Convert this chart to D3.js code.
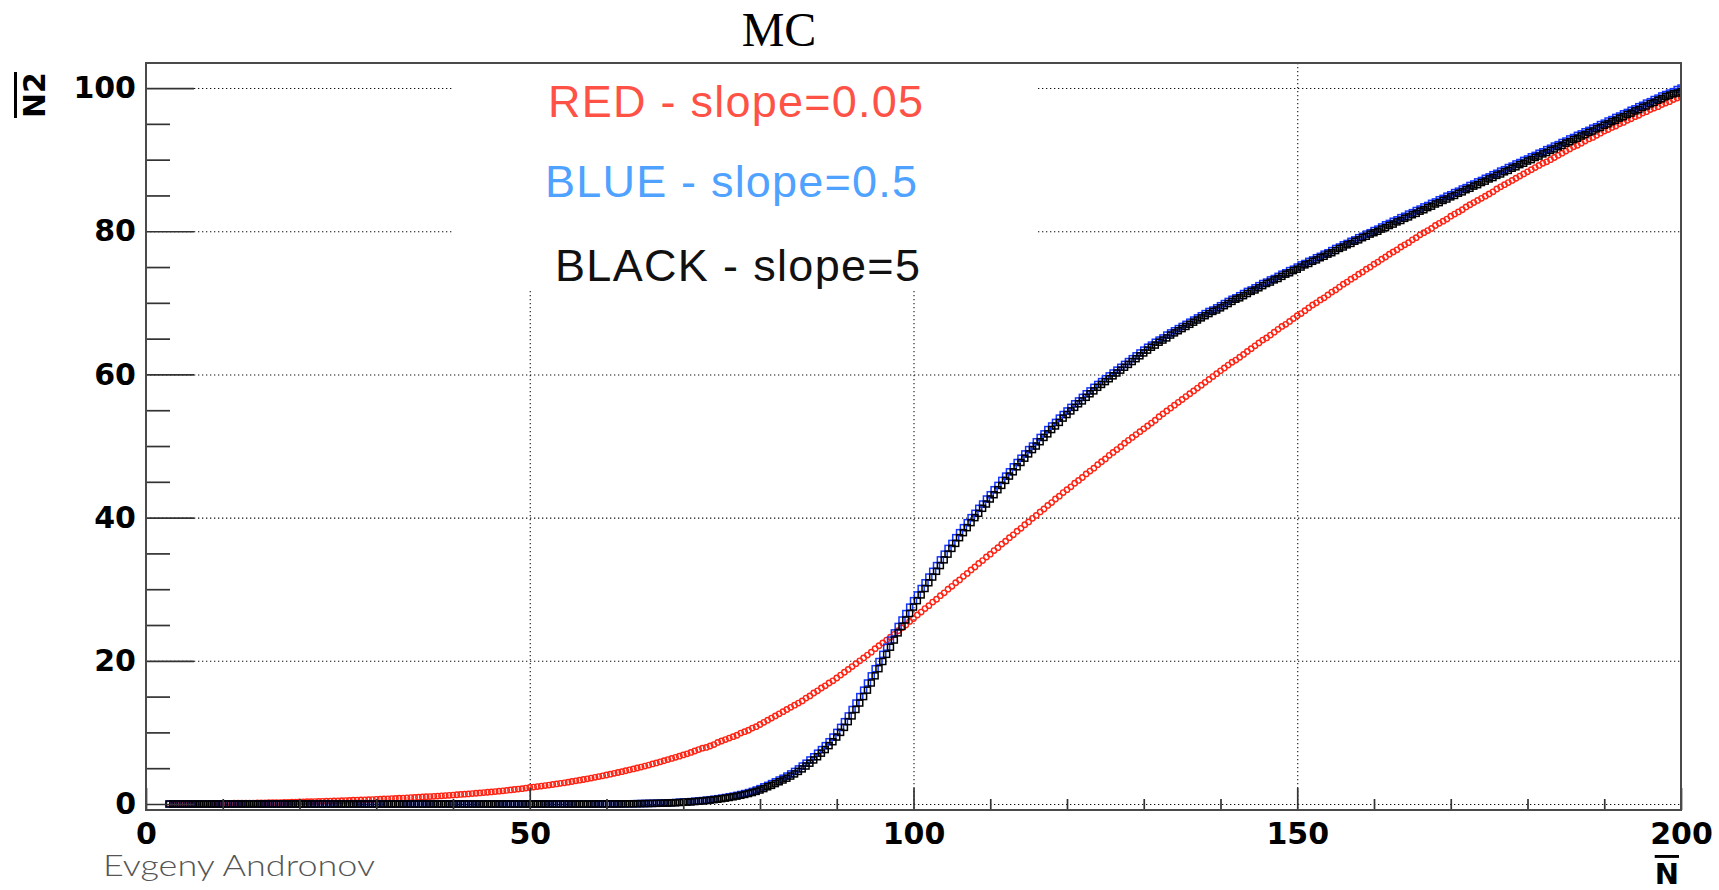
<!DOCTYPE html>
<html>
<head>
<meta charset="utf-8">
<script src="https://cdn.jsdelivr.net/npm/d3@7"></script>
<style>
  html, body { margin: 0; padding: 0; background: #fff; }
  svg { display: block; }
  .axis .tick text { font-family: "DejaVu Sans", sans-serif; font-weight: bold; font-size: 30px; fill: #000; }
</style>
</head>
<body>
<svg id="chart" width="1719" height="890"></svg>
<script>

/*
*       Data
*/

// mean N grid: first point and step of the scan
var nFirst = 3;
var nStep = 0.5;

// RED - slope=0.05 (open circles)
var redN2 = [
  0.02,0.02,0.03,0.03,0.03,0.04,0.04,0.04,0.05,0.05,0.06,0.06,0.07,0.07,0.08,
  0.08,0.09,0.1,0.1,0.11,0.11,0.12,0.13,0.14,0.15,0.16,0.17,0.18,0.19,0.2,0.22,0.23,0.25,0.26,0.28,
  0.29,0.31,0.32,0.34,0.35,0.37,0.38,0.4,0.42,0.44,0.46,0.48,0.5,0.52,0.54,0.56,0.58,0.6,0.62,0.65,
  0.67,0.7,0.72,0.75,0.77,0.8,0.83,0.86,0.89,0.92,0.95,0.98,1.01,1.04,1.07,1.11,1.14,1.18,1.21,1.25,
  1.29,1.33,1.37,1.41,1.45,1.5,1.54,1.59,1.64,1.69,1.74,1.79,1.84,1.9,1.96,2.02,2.08,2.14,2.22,2.3,
  2.36,2.43,2.5,2.57,2.64,2.72,2.8,2.88,2.96,3.05,3.14,3.23,3.32,3.42,3.52,3.62,3.72,3.83,3.94,4.05,
  4.16,4.28,4.4,4.52,4.64,4.77,4.9,5.03,5.16,5.3,5.44,5.59,5.74,5.89,6.04,6.2,6.36,6.52,6.68,6.85,
  7.0,7.2,7.4,7.6,7.8,7.9,8.1,8.3,8.6,8.8,9.0,9.2,9.4,9.6,9.9,10.1,10.3,10.6,10.8,11.1,
  11.4,11.7,12.0,12.3,12.6,12.9,13.2,13.5,13.8,14.1,14.4,14.8,15.1,15.5,15.8,16.2,16.5,16.9,17.2,17.6,
  18.0,18.4,18.8,19.2,19.6,20.0,20.4,20.8,21.2,21.7,22.1,22.5,22.9,23.3,23.7,24.2,24.6,25.0,25.5,25.9,
  26.4,26.8,27.3,27.7,28.2,28.6,29.1,29.5,30.0,30.4,30.9,31.3,31.8,32.2,32.7,33.1,33.6,34.0,34.5,34.9,
  35.4,35.8,36.3,36.7,37.2,37.6,38.1,38.5,39.0,39.4,39.9,40.3,40.8,41.2,41.7,42.1,42.6,43.0,43.5,43.9,
  44.3,44.8,45.2,45.6,46.1,46.5,46.9,47.4,47.8,48.2,48.7,49.1,49.5,49.9,50.4,50.8,51.2,51.6,52.0,52.4,
  52.8,53.2,53.6,54.1,54.5,54.9,55.3,55.7,56.1,56.5,56.9,57.3,57.7,58.1,58.5,58.9,59.3,59.7,60.1,60.5,
  60.9,61.3,61.7,62.0,62.4,62.8,63.2,63.6,64.0,64.4,64.8,65.1,65.5,65.9,66.3,66.7,67.0,67.4,67.8,68.2,
  68.5,68.9,69.3,69.7,70.0,70.4,70.7,71.1,71.5,71.8,72.2,72.6,72.9,73.3,73.6,74.0,74.3,74.7,75.0,75.4,
  75.7,76.1,76.4,76.8,77.1,77.4,77.8,78.1,78.4,78.8,79.1,79.5,79.8,80.1,80.4,80.8,81.1,81.4,81.7,82.1,
  82.4,82.7,83.0,83.4,83.7,84.0,84.3,84.6,84.9,85.2,85.5,85.9,86.2,86.5,86.8,87.1,87.4,87.7,88.0,88.3,
  88.6,88.9,89.2,89.5,89.7,90.0,90.3,90.6,90.9,91.2,91.5,91.8,92.0,92.3,92.6,92.9,93.1,93.4,93.7,94.0,
  94.2,94.5,94.7,95.0,95.2,95.5,95.7,96.0,96.2,96.5,96.7,97.0,97.2,97.4,97.7,97.9,98.1,98.4,98.6,98.8
];

// BLUE - slope=0.5 (open squares)
var blueN2 = [
  0,0,0,0,0,0,0,0,0,0,0,0,0,0,0,
  0,0,0,0,0,0,0,0,0,0,0,0,0,0,0,0,0,0,0,0,
  0,0,0,0,0,0,0,0,0,0,0,0,0,0,0,0,0,0,0,0,
  0,0,0,0,0,0,0,0,0,0,0,0,0,0,0,0,0,0,0,0,
  0,0,0,0,0,0,0,0,0,0,0,0,0,0,0,0,0,0,0,0,
  0,0,0,0,0,0,0,0,0,0,0,0,0,0,0,0,0.01,0.01,0.01,0.01,
  0.01,0.01,0.02,0.02,0.03,0.03,0.04,0.05,0.06,0.07,0.08,0.09,0.1,0.12,0.14,0.16,0.18,0.21,0.24,0.27,
  0.3,0.34,0.38,0.43,0.48,0.54,0.6,0.67,0.74,0.82,0.91,1.0,1.1,1.21,1.33,1.46,1.6,1.76,1.95,2.15,
  2.4,2.6,2.85,3.1,3.35,3.6,3.9,4.2,4.55,4.9,5.3,5.7,6.15,6.6,7.1,7.6,8.15,8.7,9.35,10.0,
  10.7,11.5,12.3,13.2,14.1,15.0,15.9,16.9,17.9,18.9,19.9,20.9,21.9,22.9,23.9,24.8,25.7,26.6,27.5,28.4,
  29.2,30.1,30.9,31.7,32.5,33.3,34.1,34.9,35.7,36.4,37.2,37.9,38.6,39.3,40.0,40.6,41.3,41.9,42.6,43.2,
  43.9,44.5,45.2,45.8,46.4,47.1,47.7,48.3,48.9,49.5,50.0,50.6,51.2,51.7,52.3,52.8,53.3,53.9,54.4,54.9,
  55.4,55.9,56.3,56.8,57.3,57.7,58.2,58.6,59.0,59.4,59.8,60.2,60.6,61.0,61.4,61.8,62.2,62.6,63.0,63.4,
  63.8,64.1,64.5,64.8,65.1,65.5,65.8,66.1,66.4,66.7,67.0,67.3,67.6,67.9,68.2,68.5,68.8,69.0,69.3,69.6,
  69.9,70.2,70.5,70.7,71.0,71.3,71.6,71.8,72.1,72.4,72.7,72.9,73.2,73.4,73.7,74.0,74.2,74.5,74.7,75.0,
  75.3,75.5,75.8,76.0,76.3,76.5,76.8,77.0,77.3,77.6,77.8,78.1,78.3,78.6,78.8,79.1,79.3,79.6,79.8,80.1,
  80.3,80.6,80.9,81.1,81.4,81.6,81.9,82.1,82.4,82.6,82.9,83.1,83.4,83.6,83.9,84.1,84.4,84.6,84.9,85.1,
  85.4,85.6,85.9,86.1,86.4,86.6,86.9,87.1,87.4,87.6,87.9,88.1,88.4,88.6,88.9,89.1,89.4,89.6,89.9,90.1,
  90.4,90.6,90.9,91.1,91.4,91.6,91.9,92.1,92.4,92.6,92.9,93.1,93.4,93.6,93.9,94.1,94.4,94.6,94.9,95.1,
  95.4,95.6,95.9,96.1,96.4,96.6,96.9,97.1,97.4,97.6,97.9,98.1,98.4,98.6,98.9,99.1,99.3,99.5,99.8,100.0
];

// BLACK - slope=5 (open squares, drawn on top)
var blackN2 = [
  0,0,0,0,0,0,0,0,0,0,0,0,0,0,0,
  0,0,0,0,0,0,0,0,0,0,0,0,0,0,0,0,0,0,0,0,
  0,0,0,0,0,0,0,0,0,0,0,0,0,0,0,0,0,0,0,0,
  0,0,0,0,0,0,0,0,0,0,0,0,0,0,0,0,0,0,0,0,
  0,0,0,0,0,0,0,0,0,0,0,0,0,0,0,0,0,0,0,0,
  0,0,0,0,0,0,0,0,0,0,0,0,0,0,0,0,0,0.01,0.01,0.01,
  0.01,0.01,0.01,0.02,0.02,0.03,0.03,0.04,0.05,0.06,0.07,0.08,0.09,0.1,0.12,0.14,0.16,0.18,0.21,0.24,
  0.27,0.3,0.34,0.38,0.43,0.48,0.54,0.6,0.67,0.74,0.82,0.91,1.0,1.1,1.21,1.33,1.46,1.6,1.76,1.95,
  2.15,2.4,2.6,2.85,3.1,3.35,3.6,3.9,4.2,4.55,4.9,5.3,5.7,6.15,6.6,7.1,7.6,8.15,8.7,9.35,
  10.0,10.7,11.5,12.3,13.2,14.1,15.0,15.9,16.9,17.9,18.9,19.9,20.9,21.9,22.9,23.9,24.8,25.7,26.6,27.5,
  28.4,29.2,30.1,30.9,31.7,32.5,33.3,34.1,34.9,35.7,36.4,37.2,37.9,38.6,39.3,40.0,40.6,41.3,41.9,42.6,
  43.2,43.9,44.5,45.2,45.8,46.4,47.1,47.7,48.3,48.9,49.5,50.0,50.6,51.2,51.7,52.3,52.8,53.3,53.9,54.4,
  54.9,55.4,55.9,56.3,56.8,57.3,57.7,58.2,58.6,59.0,59.4,59.8,60.2,60.6,61.0,61.4,61.8,62.2,62.6,63.0,
  63.4,63.8,64.1,64.5,64.8,65.1,65.5,65.8,66.1,66.4,66.7,67.0,67.3,67.6,67.9,68.2,68.5,68.8,69.0,69.3,
  69.6,69.9,70.2,70.5,70.7,71.0,71.3,71.6,71.8,72.1,72.4,72.7,72.9,73.2,73.4,73.7,74.0,74.2,74.5,74.7,
  75.0,75.3,75.5,75.8,76.0,76.3,76.5,76.8,77.0,77.3,77.6,77.8,78.1,78.3,78.6,78.8,79.1,79.3,79.6,79.8,
  80.0,80.3,80.5,80.8,81.0,81.3,81.5,81.8,82.0,82.3,82.5,82.8,83.0,83.3,83.5,83.8,84.0,84.3,84.5,84.8,
  85.0,85.3,85.5,85.8,86.0,86.3,86.5,86.8,87.0,87.3,87.5,87.8,88.0,88.3,88.5,88.8,89.0,89.3,89.5,89.8,
  90.0,90.3,90.5,90.8,91.0,91.3,91.5,91.8,92.0,92.3,92.5,92.8,93.0,93.3,93.5,93.8,94.0,94.3,94.5,94.8,
  95.0,95.3,95.5,95.8,96.0,96.3,96.5,96.8,97.0,97.3,97.5,97.8,98.0,98.3,98.5,98.8,99.0,99.2,99.3,99.5
];

// Axis ranges and ticks
var xRange = [0, 200];
var yRange = [-0.84, 103.5];
var xMajorTicks = [0, 50, 100, 150, 200];
var xMinorTicks = [10, 20, 30, 40, 60, 70, 80, 90, 110, 120, 130, 140, 160, 170, 180, 190];
var yMajorTicks = [0, 20, 40, 60, 80, 100];
var yMinorTicks = [5, 10, 15, 25, 30, 35, 45, 50, 55, 65, 70, 75, 85, 90, 95];

// Legend lines
var legendLabels = ['RED - slope=0.05', 'BLUE - slope=0.5', 'BLACK - slope=5'];
var legendColors = ['#ff5246', '#4fa2ff', '#111111'];

var titleText = 'MC';
var signature = 'Evgeny Andronov';


/*
*       Scales
*/

var svg = d3.select('#chart');

var x = d3.scaleLinear().domain(xRange).range([146, 1681]);
var y = d3.scaleLinear().domain(yRange).range([810, 63]);

var frameLeft = x.range()[0], frameRight = x.range()[1];
var frameTop = y.range()[1], frameBottom = y.range()[0];

// Pair up the grid with each series
function toPoints( values ){
    return values.map( function(v, i){ return { n: nFirst + i * nStep, n2: v }; });
}


/*
*       Grid (dotted)
*/

var grid = svg.append('g').attr('class', 'grid')
    .attr('stroke', '#111').attr('stroke-width', 1.1).attr('stroke-dasharray', '1.3,2.7');

grid.selectAll('line.h').data(yMajorTicks).enter().append('line')
    .attr('class', 'h')
    .attr('x1', frameLeft).attr('x2', frameRight)
    .attr('y1', function(d){ return y(d) + 0.5; }).attr('y2', function(d){ return y(d) + 0.5; });

grid.selectAll('line.v').data(xMajorTicks.slice(1, -1)).enter().append('line')
    .attr('class', 'v')
    .attr('x1', function(d){ return x(d) + 0.5; }).attr('x2', function(d){ return x(d) + 0.5; })
    .attr('y1', frameTop).attr('y2', frameBottom);

// Legend box hides the grid behind the text
svg.append('rect')
    .attr('x', 453).attr('y', frameTop + 1)
    .attr('width', 1036 - 453).attr('height', 289 - frameTop - 1)
    .attr('fill', '#fff');


/*
*       Markers
*/

svg.append('clipPath').attr('id', 'frame-clip')
  .append('rect')
    .attr('x', frameLeft).attr('y', frameTop)
    .attr('width', frameRight - frameLeft).attr('height', frameBottom - frameTop);

var plot = svg.append('g').attr('clip-path', 'url(#frame-clip)');

plot.append('g').attr('class', 'red')
  .selectAll('circle').data(toPoints(redN2)).enter().append('circle')
    .attr('cx', function(d){ return x(d.n); })
    .attr('cy', function(d){ return y(d.n2); })
    .attr('r', 2.7)
    .attr('fill', 'none').attr('stroke', '#ff2414').attr('stroke-width', 1.4);

var sq = 6;
[ [blueN2, '#1434ff'], [blackN2, '#000000'] ].forEach( function(series){
    plot.append('g')
      .selectAll('rect').data(toPoints(series[0])).enter().append('rect')
        .attr('x', function(d){ return x(d.n) - sq / 2; })
        .attr('y', function(d){ return y(d.n2) - sq / 2; })
        .attr('width', sq).attr('height', sq)
        .attr('fill', 'none').attr('stroke', series[1]).attr('stroke-width', 1.5);
});


/*
*       Axes
*/

var axisColor = '#333';

var xAxis = svg.append('g').attr('class', 'axis').attr('color', axisColor)
    .attr('transform', 'translate(0,' + frameBottom + ')')
    .call(d3.axisBottom(x).tickValues(xMajorTicks).tickSizeInner(-22).tickSizeOuter(0).tickPadding(13)
        .tickFormat(d3.format('d')));
xAxis.select('.domain').remove();

var xMinor = svg.append('g').attr('color', axisColor)
    .attr('transform', 'translate(0,' + frameBottom + ')')
    .call(d3.axisBottom(x).tickValues(xMinorTicks).tickSizeInner(-11).tickSizeOuter(0).tickFormat(''));
xMinor.select('.domain').remove();

var yAxis = svg.append('g').attr('class', 'axis').attr('color', axisColor)
    .attr('transform', 'translate(' + frameLeft + ',0)')
    .call(d3.axisLeft(y).tickValues(yMajorTicks).tickSizeInner(-48).tickSizeOuter(0).tickPadding(10)
        .tickFormat(d3.format('d')));
yAxis.select('.domain').remove();

var yMinor = svg.append('g').attr('color', axisColor)
    .attr('transform', 'translate(' + frameLeft + ',0)')
    .call(d3.axisLeft(y).tickValues(yMinorTicks).tickSizeInner(-24).tickSizeOuter(0).tickFormat(''));
yMinor.select('.domain').remove();

svg.selectAll('.tick line').attr('stroke-width', 1.7);

// Frame
svg.append('rect')
    .attr('x', frameLeft).attr('y', frameTop)
    .attr('width', frameRight - frameLeft).attr('height', frameBottom - frameTop)
    .attr('fill', 'none').attr('stroke', '#4a4a4a').attr('stroke-width', 2);

// Axis titles (mean values, so overlined)
svg.append('text')
    .attr('transform', 'translate(' + 45 + ',' + (frameTop + 9) + ') rotate(-90)')
    .attr('text-anchor', 'end')
    .style('font-family', '"DejaVu Sans", sans-serif').style('font-weight', 'bold').style('font-size', '30px')
    .style('text-decoration', 'overline')
    .text('N2');

svg.append('text')
    .attr('x', frameRight - 2).attr('y', 884)
    .attr('text-anchor', 'end')
    .style('font-family', '"DejaVu Sans", sans-serif').style('font-weight', 'bold').style('font-size', '29px')
    .style('text-decoration', 'overline')
    .text('N');


/*
*       Title, legend, signature
*/

svg.append('text')
    .attr('x', 779).attr('y', 46)
    .attr('text-anchor', 'middle')
    .style('font-family', '"Liberation Serif", "Times New Roman", serif').style('font-size', '48px')
    .text(titleText);

svg.append('clipPath').attr('id', 'legend-clip')
  .append('rect').attr('x', 453).attr('y', frameTop).attr('width', 1036 - 453).attr('height', 289 - frameTop);

var legendX = [548, 545, 555];
var legendY = [117, 197, 281];
var legendW = [375, 372, 365];

svg.append('g').attr('clip-path', 'url(#legend-clip)')
  .selectAll('text').data(legendLabels).enter().append('text')
    .attr('x', function(d, i){ return legendX[i]; })
    .attr('y', function(d, i){ return legendY[i]; })
    .attr('textLength', function(d, i){ return legendW[i]; })
    .attr('lengthAdjust', 'spacing')
    .attr('fill', function(d, i){ return legendColors[i]; })
    .style('font-family', '"Liberation Sans", Arial, sans-serif').style('font-size', '45px')
    .text(function(d){ return d; });

svg.append('text')
    .attr('x', 103).attr('y', 876)
    .attr('textLength', 272).attr('lengthAdjust', 'spacingAndGlyphs')
    .attr('fill', '#555')
    .style('font-family', 'Lato, "Open Sans", sans-serif').style('font-weight', '300').style('font-size', '29px')
    .text(signature);

</script>
</body>
</html>
